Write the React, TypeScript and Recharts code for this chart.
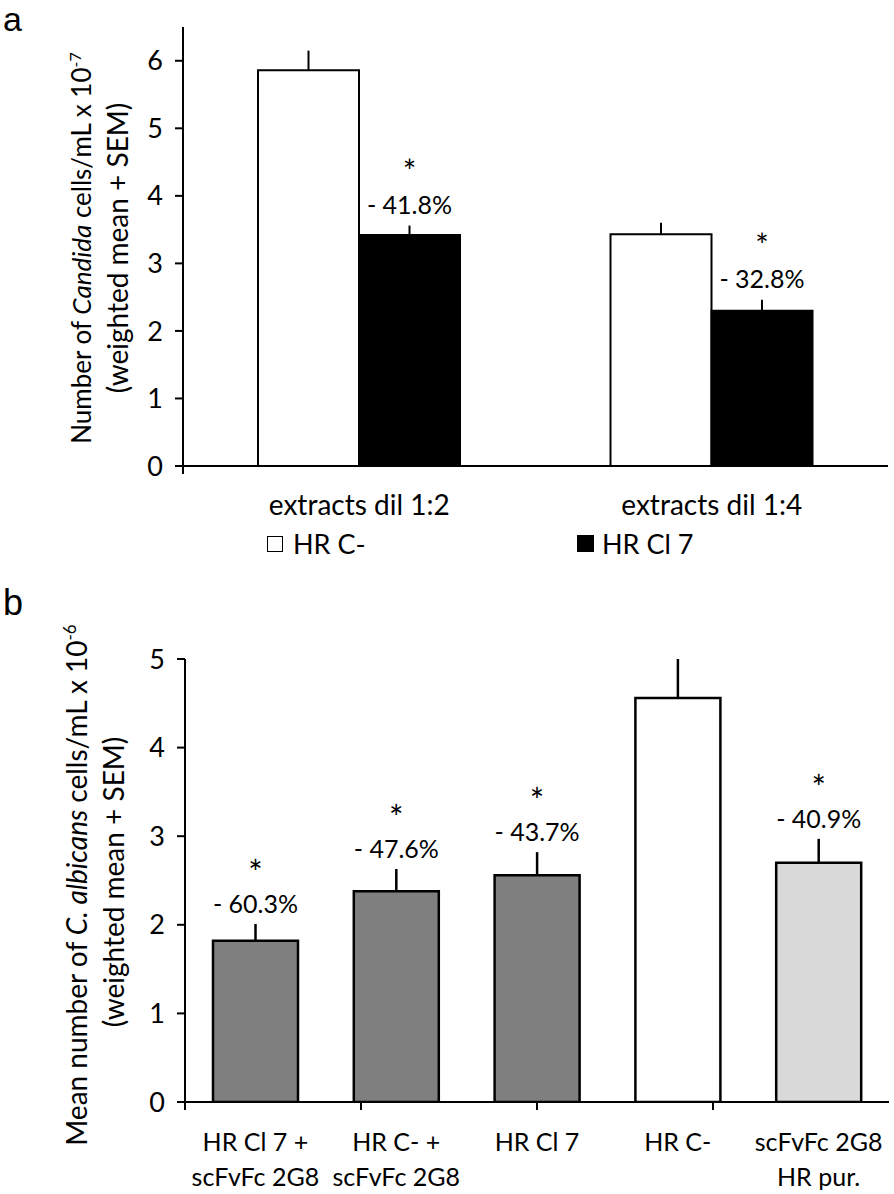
import { BarChart, Bar, XAxis, YAxis, ErrorBar, Cell, LabelList } from "recharts";

const FONT = "Lato, 'Open Sans', sans-serif";

// panel a
const categoriesA = ["extracts dil 1:2", "extracts dil 1:4"];
const hrCMinusA = [5.86, 3.43];
const hrCMinusSemA = [0.29, 0.17];
const hrCl7A = [3.42, 2.3];
const hrCl7SemA = [0.14, 0.16];
const changeA = ["- 41.8%", "- 32.8%"];
const ticksA = [0, 1, 2, 3, 4, 5, 6];

// panel b
const categoriesB = [
  "HR Cl 7 +\nscFvFc 2G8",
  "HR C- +\nscFvFc 2G8",
  "HR Cl 7",
  "HR C-",
  "scFvFc 2G8\nHR pur.",
];
const valuesB = [1.82, 2.38, 2.56, 4.56, 2.7];
const semB = [0.19, 0.25, 0.26, 0.44, 0.27];
const fillsB = ["#7f7f7f", "#7f7f7f", "#7f7f7f", "#ffffff", "#d9d9d9"];
const changeB = ["- 60.3%", "- 47.6%", "- 43.7%", "", "- 40.9%"];
const ticksB = [0, 1, 2, 3, 4, 5];

const range = (n: number) => Array.from({ length: n + 1 }, (_, i) => i);

// "*" + yüzde etiketi, hata çubuğunun tepesine göre (tek text, iki satır)
function sigLabel(sems: number[], texts: string[], starGap: number, lineGap: number, starSize: number) {
  return (props: any) => {
    const vb = props.viewBox ?? props;
    const { x, y, width, height } = vb;
    const idx = props.index;
    const txt = texts[idx];
    if (!txt) return null;
    const value = Number(props.value);
    const pxPerUnit = height / value;
    const errTop = y - sems[idx] * pxPerUnit;
    const cx = x + width / 2;
    return (
      <text x={cx} y={errTop - starGap} textAnchor="middle" fontFamily={FONT} fill="#000">
        <tspan x={cx} fontSize={starSize}>*</tspan>
        <tspan x={cx} dy={lineGap} fontSize={25}>{txt}</tspan>
      </text>
    );
  };
}

function CatTick({ x, y, payload, fontSize }: any) {
  const lines = String(payload.value).split("\n");
  return (
    <text x={x} y={y} textAnchor="middle" fontFamily={FONT} fontSize={fontSize} fill="#000">
      {lines.map((l, i) => (
        <tspan key={i} x={x} dy={i === 0 ? 48 : 35}>{l}</tspan>
      ))}
    </text>
  );
}

const EmptyTick = () => <g />;

const yLabelA = () => (
  <g fontFamily={FONT} fill="#000">
    <text transform="translate(91,248) rotate(-90)" textAnchor="middle" fontSize={26}>
      <tspan>Number of </tspan>
      <tspan fontStyle="italic">Candida</tspan>
      <tspan> cells/mL x 10</tspan>
      <tspan dy={-10} fontSize={16}>-7</tspan>
    </text>
    <text transform="translate(128,248) rotate(-90)" textAnchor="middle" fontSize={28}>
      (weighted mean + SEM)
    </text>
  </g>
);

const yLabelB = () => (
  <g fontFamily={FONT} fill="#000">
    <text transform="translate(87,295) rotate(-90)" textAnchor="middle" fontSize={28}>
      <tspan>Mean number of </tspan>
      <tspan fontStyle="italic">C. albicans</tspan>
      <tspan> cells/mL x 10</tspan>
      <tspan dy={-11} fontSize={17}>-6</tspan>
    </text>
    <text transform="translate(124,292) rotate(-90)" textAnchor="middle" fontSize={28}>
      (weighted mean + SEM)
    </text>
  </g>
);

const axisStyle = { stroke: "#000", strokeWidth: 2 };
const tickStyle = { fontSize: 27, fill: "#000", fontFamily: FONT };

export default function App() {
  const dataA = categoriesA.map((c, i) => ({
    cat: c,
    cMinus: hrCMinusA[i],
    cMinusErr: [0, hrCMinusSemA[i]],
    cl7: hrCl7A[i],
    cl7Err: [0, hrCl7SemA[i]],
  }));
  const dataB = categoriesB.map((c, i) => ({
    cat: c,
    value: valuesB[i],
    err: [0, semB[i]],
  }));

  return (
    <div style={{ position: "absolute", left: 0, top: 0, width: 894, height: 1194, background: "#fff" }}>
      <svg width={60} height={640} style={{ position: "absolute", left: 0, top: 0 }}>
        <text x={3} y={31} fontFamily="'Liberation Sans', sans-serif" fontSize={34}>a</text>
        <text x={3} y={615} fontFamily="'Liberation Sans', sans-serif" fontSize={36}>b</text>
      </svg>

      {/* panel a */}
      <div style={{ position: "absolute", left: 0, top: 0 }}>
        <BarChart
          width={894}
          height={590}
          data={dataA}
          margin={{ top: 27, right: 6, bottom: 0, left: 0 }}
          barSize={101}
          barGap={0}
        >
          <XAxis
            xAxisId={0}
            type="number"
            domain={[0, categoriesA.length]}
            ticks={range(categoriesA.length)}
            tick={EmptyTick}
            tickSize={8}
            height={1}
            axisLine={axisStyle}
            tickLine={axisStyle}
            allowDataOverflow
          />
          <XAxis
            xAxisId={1}
            dataKey="cat"
            axisLine={false}
            tickLine={false}
            tickSize={0}
            tickMargin={0}
            height={123}
            interval={0}
            tick={<CatTick fontSize={28} />}
          />
          <YAxis
            width={183}
            domain={[0, 6.5]}
            ticks={ticksA}
            allowDataOverflow
            axisLine={axisStyle}
            tickLine={axisStyle}
            tickSize={8}
            tickMargin={12}
            tick={tickStyle}
            label={yLabelA}
          />
          <Bar xAxisId={1} dataKey="cMinus" fill="#fff" stroke="#000" strokeWidth={2} isAnimationActive={false}>
            <ErrorBar dataKey="cMinusErr" direction="y" width={0} stroke="#000" strokeWidth={2} isAnimationActive={false} />
          </Bar>
          <Bar xAxisId={1} dataKey="cl7" fill="#000" stroke="#000" strokeWidth={2} isAnimationActive={false}>
            <ErrorBar dataKey="cl7Err" direction="y" width={0} stroke="#000" strokeWidth={2} isAnimationActive={false} />
            <LabelList dataKey="cl7" content={sigLabel(hrCl7SemA, changeA, 43, 31, 32)} />
          </Bar>
        </BarChart>
      </div>

      {/* legend a */}
      <div style={{ position: "absolute", left: 267, top: 527, fontFamily: FONT, fontSize: 27, display: "flex", alignItems: "center" }}>
        <span style={{ display: "inline-block", width: 14, height: 14, border: "1.5px solid #000", background: "#fff", marginRight: 10 }} />
        HR C-
      </div>
      <div style={{ position: "absolute", left: 577, top: 527, fontFamily: FONT, fontSize: 27, display: "flex", alignItems: "center" }}>
        <span style={{ display: "inline-block", width: 17, height: 17, background: "#000", marginRight: 8 }} />
        HR Cl 7
      </div>

      {/* panel b */}
      <div style={{ position: "absolute", left: 0, top: 590 }}>
        <BarChart
          width={894}
          height={604}
          data={dataB}
          margin={{ top: 69, right: 5, bottom: 0, left: 0 }}
          barSize={85}
        >
          <XAxis
            xAxisId={0}
            type="number"
            domain={[0, categoriesB.length]}
            ticks={range(categoriesB.length)}
            tick={EmptyTick}
            tickSize={8}
            height={1}
            axisLine={axisStyle}
            tickLine={axisStyle}
            allowDataOverflow
          />
          <XAxis
            xAxisId={1}
            dataKey="cat"
            axisLine={false}
            tickLine={false}
            tickSize={0}
            tickMargin={0}
            height={91}
            interval={0}
            tick={<CatTick fontSize={25} />}
          />
          <YAxis
            width={185}
            domain={[0, 5]}
            ticks={ticksB}
            allowDataOverflow
            axisLine={axisStyle}
            tickLine={axisStyle}
            tickSize={8}
            tickMargin={12}
            tick={tickStyle}
            label={yLabelB}
          />
          <Bar xAxisId={1} dataKey="value" stroke="#000" strokeWidth={2.5} isAnimationActive={false}>
            {dataB.map((d, i) => (
              <Cell key={d.cat} fill={fillsB[i]} />
            ))}
            <ErrorBar dataKey="err" direction="y" width={0} stroke="#000" strokeWidth={2.5} isAnimationActive={false} />
            <LabelList dataKey="value" content={sigLabel(semB, changeB, 39, 28, 34)} />
          </Bar>
        </BarChart>
      </div>
    </div>
  );
}
